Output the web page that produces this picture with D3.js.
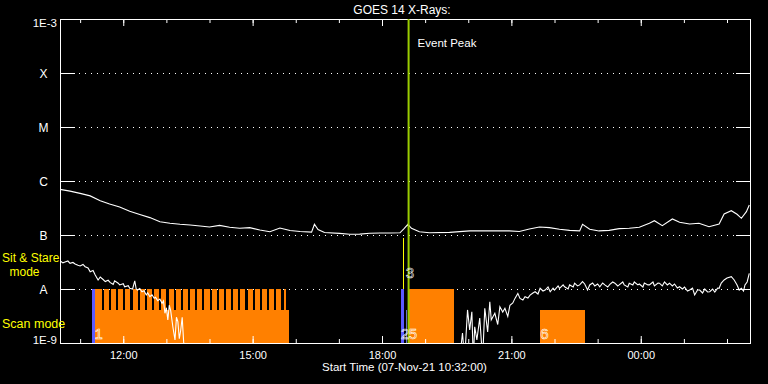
<!DOCTYPE html>
<html>
<head>
<meta charset="utf-8">
<script src="https://cdn.jsdelivr.net/npm/d3@7"></script>
<style>
  body { margin: 0; background: #000; }
  svg { display: block; background: #000; }
  text { font-family: "Liberation Sans", Arial, sans-serif; fill: #fff; }
</style>
</head>
<body>
<svg id="chart" width="768" height="384"></svg>
<script>
// flux levels on the y axis and their names
const levels = [1e-9, 1e-8, 1e-7, 1e-6, 1e-5, 1e-4, 1e-3];
const levelLabels = ["1E-9", "A", "B", "C", "M", "X", "1E-3"];

const startTime = "10:32";
const endTime = "02:32";   // next day

// long channel (1-8 A): minutes after start, flux in 1e-7 W/m2
const longMin = [0,14,28,42,56,69,83,97,111,125,139,153,167,181,195,208,222,236,250,264,
  278,292,306,320,334,350,354,359,368,389,403,417,431,445,459,473,479,484,489,500,
  514,542,570,598,625,639,653,667,681,695,709,723,727,737,750,764,778,792,806,820,
  827,838,852,862,876,889,903,917,924,934,942,948,955,959];
const longFlux = [7.0,6.5,5.9,5.3,4.3,3.75,3.3,2.75,2.4,2.1,1.76,1.65,1.58,1.53,1.47,1.41,1.51,1.39,1.33,1.37,
  1.24,1.15,1.35,1.21,1.16,1.13,1.58,1.26,1.11,1.07,1.03,1.04,1.08,1.09,1.09,1.10,1.33,1.58,1.33,1.15,
  1.10,1.12,1.19,1.19,1.19,1.16,1.29,1.41,1.37,1.28,1.22,1.19,1.58,1.28,1.19,1.22,1.31,1.33,1.39,1.65,
  1.84,1.49,1.98,1.72,1.60,1.65,1.42,1.60,2.45,2.82,2.42,2.04,2.70,3.59];

// short channel (0.5-4 A): [minutes after start, flux in 1e-8 W/m2], two stretches
const shortA = [[0,3.34],[4,3.05],[7,3.16],[11,3.3],[14,2.99],[18,3.1],[21,2.9],[25,2.75],[28,2.67],[32,2.85],
  [35,2.59],[39,2.45],[42,2.09],[46,2.2],[49,1.82],[53,1.47],[56,1.67],[60,1.5],[63,1.37],[67,1.45],
  [70,1.31],[74,1.22],[76,1.42],[81,1.28],[83,1.19],[88,1.25],[90,1.10],[95,1.15],[97,1.03],[101,1.0],
  [104,1.42],[106,1.0],[108,0.958],[111,1.02],[114,0.891],[117,0.93],[120,0.774],[122,0.85],[125,0.72],[128,0.78],
  [131,0.673],[133,0.70],[136,0.607],[139,0.65],[142,0.543],[144,0.6],[146,0.355],[148,0.45],[150,0.267],[152,0.5],
  [154,0.397],[157,0.200],[160,0.114],[162,0.3],[164,0.248],[166,0.12],[168,0.174],[170,0.3],[172,0.106],[175,0.05]];
const shortB = [[556,0.05],[560,0.153],[563,0.05],[567,0.41],[570,0.174],[573,0.38],[575,0.05],[577,0.20],[580,0.114],[584,0.29],
  [588,0.05],[591,0.44],[595,0.16],[598,0.58],[600,0.267],[605,0.355],[609,0.22],[612,0.47],[616,0.375],[619,0.44],
  [623,0.31],[626,0.50],[630,0.55],[633,0.67],[637,0.83],[640,0.67],[644,0.626],[647,0.72],[651,0.68],[654,0.77],
  [658,0.843],[661,0.89],[665,0.808],[668,1.03],[672,0.918],[675,0.958],[679,1.09],[682,0.89],[686,1.04],[688,0.958],
  [693,1.14],[695,1.03],[700,1.19],[702,1.10],[707,1.0],[709,1.19],[714,1.09],[716,1.28],[720,1.14],[723,1.19],
  [727,1.37],[730,1.24],[734,0.958],[737,1.19],[741,1.29],[744,1.14],[748,1.24],[751,1.10],[755,1.29],[758,1.19],
  [762,1.09],[765,1.22],[769,1.35],[772,1.28],[776,1.14],[778,1.19],[783,1.35],[785,1.19],[790,1.09],[792,1.28],
  [797,1.19],[799,1.35],[804,1.19],[806,1.24],[811,1.09],[813,1.29],[818,1.19],[820,1.19],[825,1.35],[827,1.14],
  [832,1.29],[834,1.28],[838,1.14],[841,1.35],[845,1.19],[848,1.28],[852,1.14],[855,1.24],[859,1.04],[862,1.10],
  [866,1.0],[869,1.09],[873,0.918],[876,0.958],[880,1.04],[883,0.774],[887,0.958],[890,0.958],[894,0.843],[897,1.0],
  [901,0.88],[904,0.89],[908,1.0],[911,0.88],[915,1.04],[917,1.03],[920,1.29],[924,1.47],[928,1.60],[934,1.69],
  [938,1.47],[942,1.19],[945,0.958],[948,1.03],[951,0.918],[953,1.19],[956,1.35],[959,1.95]];

// observing modes
const scanLevel = 4.1e-9;
const stareLevel = 1e-8;
const scanPeriods = [["11:21","15:50"], ["21:40","22:42"]];
const starePeriods = [
  ["11:21","11:30"],["11:33","11:40"],["11:43","11:50"],["11:53","12:00"],
  ["12:03","12:10"],["12:13","12:20"],["12:23","12:30"],["12:33","12:40"],["12:43","12:50"],["12:53","13:00"],
  ["13:03","13:10"],["13:13","13:20"],["13:23","13:30"],["13:33","13:40"],["13:43","13:50"],["13:53","14:00"],
  ["14:03","14:10"],["14:13","14:20"],["14:23","14:30"],["14:33","14:40"],["14:43","14:50"],["14:53","15:00"],
  ["15:03","15:10"],["15:13","15:20"],["15:23","15:30"],["15:33","15:40"],["15:43","15:46"],
  ["18:38","19:40"]];
const bluePeriods = [["11:16","11:21"], ["18:26","18:30"]];
const eventPeak = "18:37";
const markerLabels = ["1", "2", "3", "5", "6"];
const markerTimes = ["11:20", "18:26", "18:33", "18:33", "21:40"];

// --- helpers
function clock(s) {
  const [h, m] = s.split(":").map(Number);
  return new Date(Date.UTC(2021, 10, h < 10 ? 8 : 7, h, m));
}
const t0 = clock(startTime);
function afterStart(min) { return new Date(t0.getTime() + min * 60000); }

const svg = d3.select("#chart");
const plotLeft = 60, plotRight = 750, plotTop = 19, plotBottom = 343;

const x = d3.scaleUtc().domain([t0, clock(endTime)]).range([plotLeft, plotRight]);
const y = d3.scaleLog().domain([1e-9, 1e-3]).range([plotBottom, plotTop]);

svg.append("defs").append("clipPath").attr("id", "plot")
  .append("rect").attr("x", plotLeft).attr("y", plotTop)
  .attr("width", plotRight - plotLeft).attr("height", plotBottom - plotTop);

// grid lines with solid ends
const grid = svg.append("g").attr("stroke", "#fff").attr("shape-rendering", "crispEdges");
levels.slice(1, -1).forEach(v => {
  const yy = y(v) + 0.5;
  grid.append("line").attr("x1", plotLeft).attr("x2", plotLeft + 15).attr("y1", yy).attr("y2", yy);
  grid.append("line").attr("x1", plotRight - 14).attr("x2", plotRight).attr("y1", yy).attr("y2", yy);
  grid.append("line").attr("x1", plotLeft + 15).attr("x2", plotRight - 14).attr("y1", yy).attr("y2", yy)
    .attr("stroke-dasharray", "1,5").attr("stroke-dashoffset", 2);
});

// mode bars
const bars = svg.append("g").attr("shape-rendering", "crispEdges");
function periodRects(cls, data, level, color) {
  bars.selectAll("." + cls).data(data).enter().append("rect").attr("class", cls)
    .attr("x", d => x(clock(d[0]))).attr("width", d => x(clock(d[1])) - x(clock(d[0])))
    .attr("y", y(level)).attr("height", plotBottom - y(level))
    .attr("fill", color);
}
periodRects("scan", scanPeriods, scanLevel, "#ff8000");
periodRects("stare", starePeriods, stareLevel, "#ff8000");
periodRects("blue", bluePeriods, stareLevel, "#5a5aff");
// thin extra markers near the event
const xy = Math.round(x(clock("18:29"))) + 0.5;
bars.append("line").attr("x1", xy).attr("x2", xy)
  .attr("y1", y(8.8e-8)).attr("y2", y(stareLevel)).attr("stroke", "#ffff00");
const xb = Math.round(x(clock("18:34"))) + 0.5;
bars.append("line").attr("x1", xb).attr("x2", xb)
  .attr("y1", y(scanLevel)).attr("y2", plotBottom).attr("stroke", "#6a72c8");

// axes
function styleAxis(g) {
  g.select(".domain").remove();
  g.selectAll("line").attr("stroke", "#fff");
  g.selectAll("text").attr("fill", "#fff").attr("font-size", 11)
    .attr("font-family", "'Liberation Sans', Arial, sans-serif");
}
svg.append("g").attr("transform", `translate(0,${plotBottom})`)
  .call(d3.axisBottom(x).ticks(d3.utcHour.every(3)).tickSize(-7).tickPadding(8).tickFormat(d3.utcFormat("%H:%M")))
  .call(styleAxis);
svg.append("g").attr("transform", `translate(0,${plotBottom})`)
  .call(d3.axisBottom(x).ticks(d3.utcHour.every(1)).tickSize(-4).tickFormat(""))
  .call(styleAxis);
svg.append("g").attr("transform", `translate(0,${plotTop})`)
  .call(d3.axisTop(x).ticks(d3.utcHour.every(3)).tickSize(-7).tickFormat(""))
  .call(styleAxis);
svg.append("g").attr("transform", `translate(0,${plotTop})`)
  .call(d3.axisTop(x).ticks(d3.utcHour.every(1)).tickSize(-4).tickFormat(""))
  .call(styleAxis);

// frame
svg.append("rect").attr("x", plotLeft + 0.5).attr("y", plotTop + 0.5)
  .attr("width", plotRight - plotLeft).attr("height", plotBottom - plotTop)
  .attr("fill", "none").attr("stroke", "#fff").attr("shape-rendering", "crispEdges");

// y labels
levels.forEach((v, i) => {
  const lab = levelLabels[i];
  const isNum = lab.length > 1;
  let base = y(v) + 4.5;
  if (i === levels.length - 1) base = y(v) + 8;
  if (i === 0) base = y(v) + 0.5;
  svg.append("text")
    .attr("x", isNum ? 57 : 43.5).attr("y", base)
    .attr("text-anchor", isNum ? "end" : "middle")
    .attr("font-size", isNum ? 11.5 : 12)
    .text(lab);
});

// flux curves
const curves = svg.append("g").attr("clip-path", "url(#plot)")
  .attr("fill", "none").attr("stroke", "#fff").attr("stroke-width", 1.1);
const longLine = d3.line().x((d, i) => x(afterStart(longMin[i]))).y(d => y(d * 1e-7));
curves.append("path").attr("d", longLine(longFlux));
const shortLine = d3.line().x(d => x(afterStart(d[0]))).y(d => y(d[1] * 1e-8));
curves.append("path").attr("d", shortLine(shortA));
curves.append("path").attr("d", shortLine(shortB));

// event peak
const xp = x(clock(eventPeak));
svg.append("line").attr("x1", xp).attr("x2", xp).attr("y1", plotTop).attr("y2", plotBottom)
  .attr("stroke", "#9acd00").attr("stroke-width", 2);
svg.append("text").attr("x", xp + 9).attr("y", 47).attr("font-size", 11.5).text("Event Peak");

// numbered markers (outlined digits)
markerLabels.forEach((lab, i) => {
  svg.append("text")
    .attr("x", x(clock(markerTimes[i])) + (lab === "5" ? 3 : 0))
    .attr("y", lab === "3" ? 278 : 338.5)
    .attr("font-size", 15)
    .style("fill", "none").attr("stroke", "#fff").attr("stroke-width", 0.55)
    .text(lab);
});

// mode labels
const yel = "#ffff00";
svg.append("text").attr("x", 2).attr("y", 262).attr("font-size", 12).style("fill", yel).text("Sit & Stare");
svg.append("text").attr("x", 24.5).attr("y", 276).attr("font-size", 12).attr("text-anchor", "middle").style("fill", yel).text("mode");
svg.append("text").attr("x", 2).attr("y", 328).attr("font-size", 12.5).style("fill", yel).text("Scan mode");

// title and x label
svg.append("text").attr("x", 402).attr("y", 13.5).attr("text-anchor", "middle").attr("font-size", 12)
  .text("GOES 14 X-Rays:");
svg.append("text").attr("x", 404.5).attr("y", 371).attr("text-anchor", "middle").attr("font-size", 11.5)
  .text("Start Time (07-Nov-21 10:32:00)");
</script>
</body>
</html>
